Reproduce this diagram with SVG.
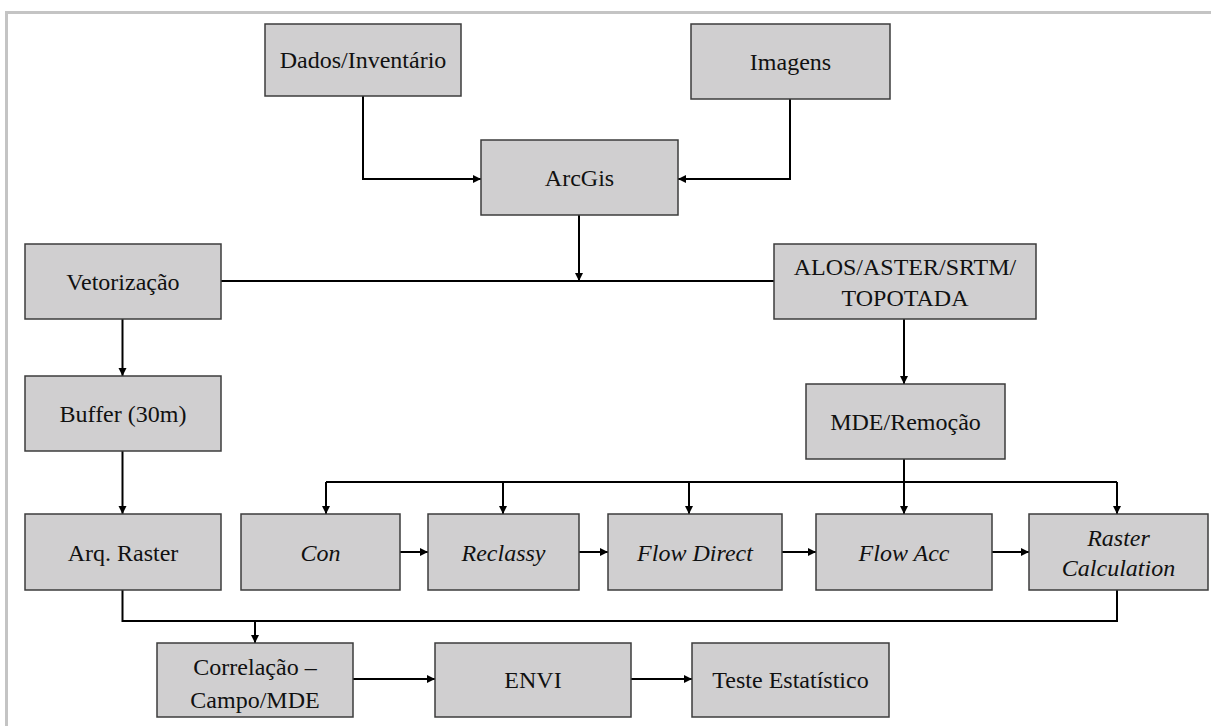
<svg xmlns="http://www.w3.org/2000/svg" width="1211" height="726" viewBox="0 0 1211 726">
<style>
.box{fill:#d0cfd0;stroke:#3c3c3c;stroke-width:1.5}
.t{font-family:'Liberation Serif','Times New Roman',Times,serif;font-size:24px;fill:#111;text-anchor:middle}
.i{font-style:italic}
.c{fill:none;stroke:#000;stroke-width:2}
.a{marker-end:url(#arr)}
.frame{stroke:#c4c4c4;stroke-width:3;fill:none}
</style>
<defs>
<marker id="arr" markerUnits="userSpaceOnUse" markerWidth="10" markerHeight="10" viewBox="0 0 10 10" refX="9" refY="5" orient="auto">
<path d="M1,1 L9,5 L1,9 Z" fill="#000"/>
</marker>
</defs>
<rect width="1211" height="726" fill="#fff"/>
<path class="frame" d="M6.5,726 V12.5 H1211"/>
<g id="connectors">
<path class="c a" d="M363,96 V179 H481"/>
<path class="c a" d="M790,99 V179 H678"/>
<path class="c a" d="M579,215 V281"/>
<path class="c" d="M221,281 H774"/>
<path class="c a" d="M122.5,319 V376"/>
<path class="c a" d="M904,319 V384"/>
<path class="c" d="M904,459 V482"/>
<path class="c" d="M326,482 H1117"/>
<path class="c a" d="M326,482 V514"/>
<path class="c a" d="M503,482 V514"/>
<path class="c a" d="M689,482 V514"/>
<path class="c a" d="M904,482 V514"/>
<path class="c a" d="M1117,482 V514"/>
<path class="c a" d="M122.5,451 V514"/>
<path class="c a" d="M400,552 H428"/>
<path class="c a" d="M579,552 H608"/>
<path class="c a" d="M782,552 H816"/>
<path class="c a" d="M992,552 H1029"/>
<path class="c" d="M122.5,590 V621 H1117 V590"/>
<path class="c a" d="M255,621 V643"/>
<path class="c a" d="M353,679 H435"/>
<path class="c a" d="M631,679 H692"/>
</g>
<g id="dados"><rect class="box" x="265" y="24" width="196" height="72"/><text class="t" x="363" y="68" font-family="Liberation Serif, serif">Dados/Inventário</text></g>
<g id="imagens"><rect class="box" x="691" y="24" width="199" height="75"/><text class="t" x="790.5" y="70">Imagens</text></g>
<g id="arcgis"><rect class="box" x="481" y="140" width="197" height="75"/><text class="t" x="579.5" y="186">ArcGis</text></g>
<g id="vetorizacao"><rect class="box" x="25" y="244" width="196" height="75"/><text class="t" x="123" y="290">Vetorização</text></g>
<g id="alos"><rect class="box" x="774" y="244" width="262" height="75"/><text class="t" x="905" y="275">ALOS/ASTER/SRTM/</text><text class="t" x="905" y="306">TOPOTADA</text></g>
<g id="buffer"><rect class="box" x="25" y="376" width="196" height="75"/><text class="t" x="123" y="422">Buffer (30m)</text></g>
<g id="mde"><rect class="box" x="806" y="384" width="199" height="75"/><text class="t" x="905.5" y="430">MDE/Remoção</text></g>
<g id="arqraster"><rect class="box" x="25" y="514" width="196" height="76"/><text class="t" x="123" y="561">Arq. Raster</text></g>
<g id="con"><rect class="box" x="241" y="514" width="159" height="76"/><text class="t i" x="320.5" y="561">Con</text></g>
<g id="reclassy"><rect class="box" x="428" y="514" width="151" height="76"/><text class="t i" x="503.5" y="561">Reclassy</text></g>
<g id="flowdirect"><rect class="box" x="608" y="514" width="174" height="76"/><text class="t i" x="695" y="561">Flow Direct</text></g>
<g id="flowacc"><rect class="box" x="816" y="514" width="176" height="76"/><text class="t i" x="904" y="561">Flow Acc</text></g>
<g id="rastercalc"><rect class="box" x="1029" y="514" width="179" height="76"/><text class="t i" x="1118.5" y="546">Raster</text><text class="t i" x="1118.5" y="576">Calculation</text></g>
<g id="correlacao"><rect class="box" x="157" y="643" width="196" height="74"/><text class="t" x="255" y="675">Correlação –</text><text class="t" x="255" y="708">Campo/MDE</text></g>
<g id="envi"><rect class="box" x="435" y="643" width="196" height="74"/><text class="t" x="533" y="688">ENVI</text></g>
<g id="teste"><rect class="box" x="692" y="643" width="197" height="74"/><text class="t" x="790.5" y="688">Teste Estatístico</text></g>
</svg>
